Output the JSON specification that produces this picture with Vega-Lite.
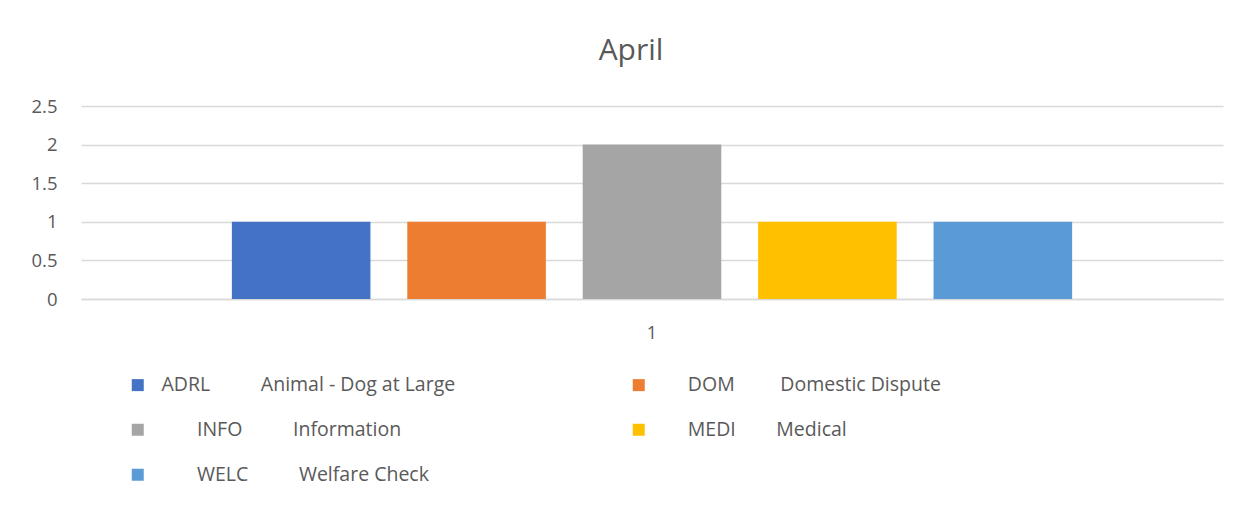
{
  "$schema": "https://vega.github.io/schema/vega-lite/v6.json",
  "autosize": {"type": "none"},
  "width": 1142,
  "height": 193,
  "padding": {"left": 81, "top": 106, "right": 32, "bottom": 207},
  "background": "white",
  "title": {"text": "April", "fontSize": 30, "font": "Open Sans", "fontWeight": "normal", "color": "#595959", "anchor": "middle", "dx": -21, "offset": 31},
  "data": {"values": [
    {"cat": "1", "code": "ADRL", "label": "ADRL\u00a0\u00a0\u00a0\u00a0\u00a0\u00a0\u00a0\u00a0\u00a0\u00a0Animal - Dog at Large", "value": 1},
    {"cat": "1", "code": "DOM", "label": "\u200b\u00a0\u00a0\u00a0\u00a0\u00a0DOM\u00a0\u00a0\u00a0\u00a0\u00a0\u00a0\u00a0\u00a0\u00a0Domestic Dispute", "value": 1},
    {"cat": "1", "code": "INFO", "label": "\u200b\u00a0\u00a0\u00a0\u00a0\u00a0\u00a0\u00a0INFO\u00a0\u00a0\u00a0\u00a0\u00a0\u00a0\u00a0\u00a0\u00a0\u00a0Information", "value": 2},
    {"cat": "1", "code": "MEDI", "label": "\u200b\u00a0\u00a0\u00a0\u00a0\u00a0MEDI\u00a0\u00a0\u00a0\u00a0\u00a0\u00a0\u00a0\u00a0Medical", "value": 1},
    {"cat": "1", "code": "WELC", "label": "\u200b\u00a0\u00a0\u00a0\u00a0\u00a0\u00a0\u00a0WELC\u00a0\u00a0\u00a0\u00a0\u00a0\u00a0\u00a0\u00a0\u00a0\u00a0Welfare Check", "value": 1}
  ]},
  "mark": {"type": "bar"},
  "encoding": {
    "x": {"field": "cat", "type": "nominal", "scale": {"paddingInner": 0, "paddingOuter": 0.151},
      "axis": {"title": null, "labelAngle": 0, "ticks": false, "domain": true, "domainColor": "#d9d9d9", "domainWidth": 1.5, "labelFontSize": 18, "labelFont": "Open Sans", "labelColor": "#595959", "labelPadding": 25}},
    "xOffset": {"field": "code", "type": "nominal", "sort": ["ADRL", "DOM", "INFO", "MEDI", "WELC"], "scale": {"paddingInner": 0.21, "paddingOuter": 0.105}},
    "y": {"field": "value", "type": "quantitative", "scale": {"domain": [0, 2.5]},
      "axis": {"title": null, "values": [0, 0.5, 1, 1.5, 2, 2.5], "format": "~g", "labelOverlap": false, "domain": false, "ticks": false, "labelFontSize": 18.5, "labelFont": "Open Sans", "labelColor": "#595959", "labelPadding": 24, "gridColor": "#d9d9d9", "gridWidth": 1.5}},
    "color": {"field": "label", "type": "nominal",
      "scale": {"domain": [
        "ADRL\u00a0\u00a0\u00a0\u00a0\u00a0\u00a0\u00a0\u00a0\u00a0\u00a0Animal - Dog at Large",
        "\u200b\u00a0\u00a0\u00a0\u00a0\u00a0\u00a0\u00a0INFO\u00a0\u00a0\u00a0\u00a0\u00a0\u00a0\u00a0\u00a0\u00a0\u00a0Information",
        "\u200b\u00a0\u00a0\u00a0\u00a0\u00a0\u00a0\u00a0WELC\u00a0\u00a0\u00a0\u00a0\u00a0\u00a0\u00a0\u00a0\u00a0\u00a0Welfare Check",
        "\u200b\u00a0\u00a0\u00a0\u00a0\u00a0DOM\u00a0\u00a0\u00a0\u00a0\u00a0\u00a0\u00a0\u00a0\u00a0Domestic Dispute",
        "\u200b\u00a0\u00a0\u00a0\u00a0\u00a0MEDI\u00a0\u00a0\u00a0\u00a0\u00a0\u00a0\u00a0\u00a0Medical"
      ], "range": ["#4472C4", "#A5A5A5", "#5B9BD5", "#ED7D31", "#FFC000"]},
      "legend": {"title": null, "orient": "none", "legendX": 47, "legendY": 269, "columns": 2, "columnPadding": 173, "rowPadding": 24, "symbolType": "square", "symbolSize": 144, "symbolStrokeWidth": 0, "symbolOffset": 0, "labelOffset": 14, "labelFontSize": 19.5, "labelFont": "Open Sans", "labelColor": "#595959", "labelLimit": 0, "padding": 0}}
  },
  "config": {"view": {"stroke": null}}
}
